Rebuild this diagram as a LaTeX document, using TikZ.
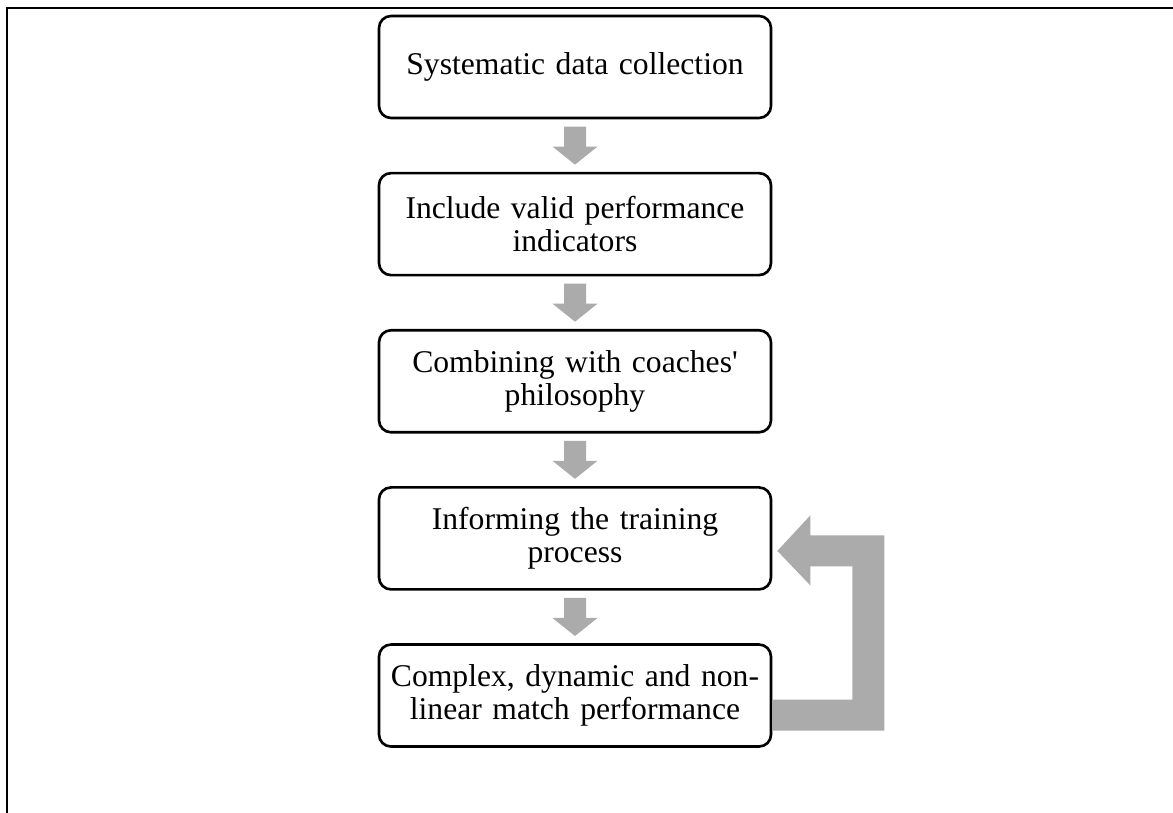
\documentclass[tikz,border=0pt]{standalone}
\usepackage{fontspec}
\setmainfont{Liberation Serif}
\usepackage{tikz}
\usetikzlibrary{calc, positioning}
\definecolor{mainBlack}{gray}{0.0}
\definecolor{arrowGray}{gray}{0.67}

\begin{document}
\begin{tikzpicture}[scale=1.0,
    stage/.style={draw=mainBlack, line width=1.5pt, fill=white, rounded corners=0.24cm,
        minimum width=7.84cm, minimum height=2.04cm, text width=7.4cm, align=center,
        font=\fontsize{18}{18.8}\selectfont},
    node distance=1.05cm]
    \useasboundingbox (0,0) rectangle (23.46,-16.26);

    % Frame
    \draw[line width=1.7pt, mainBlack] (23.6,-0.16) -- (0.14,-0.16) -- (0.14,-16.4);

    % Stages
    \node[stage] (s1) at (11.5,-1.34) {Systematic data collection};
    \node[stage, below=of s1] (s2) {Include valid performance\\indicators};
    \node[stage, below=of s2] (s3) {Combining with coaches\textquotesingle\\philosophy};
    \node[stage, below=of s3] (s4) {Informing the training\\process};
    \node[stage, below=of s4] (s5) {Complex, dynamic and non-\\linear match performance};

    % Block arrows
    \foreach \a/\b in {s1/s2, s2/s3, s3/s4, s4/s5}
        \fill[arrowGray] ($(\a.south)!0.5!(\b.north)$) ++(-0.22,0.38) -- ++(0.44,0)
            -- ++(0,-0.40) -- ++(0.23,0) -- ++(-0.45,-0.36) -- ++(-0.45,0.36)
            -- ++(0.23,0) -- cycle;

    % Feedback loop
    \fill[arrowGray] ($(s5.east)+(0,-0.08)$) -- ($(s5.east)+(1.60,-0.08)$)
        -- ($(s4.east)+(1.60,-0.56)$) -- ($(s4.east)+(0.76,-0.56)$)
        -- ($(s4.east)+(0.76,-0.94)$) -- ($(s4.east)+(0.10,-0.25)$)
        -- ($(s4.east)+(0.76,0.46)$) -- ($(s4.east)+(0.76,0.06)$)
        -- ($(s4.east)+(2.24,0.06)$) -- ($(s5.east)+(2.24,-0.70)$)
        -- ($(s5.east)+(0,-0.70)$) -- cycle;
\end{tikzpicture}
\end{document}
